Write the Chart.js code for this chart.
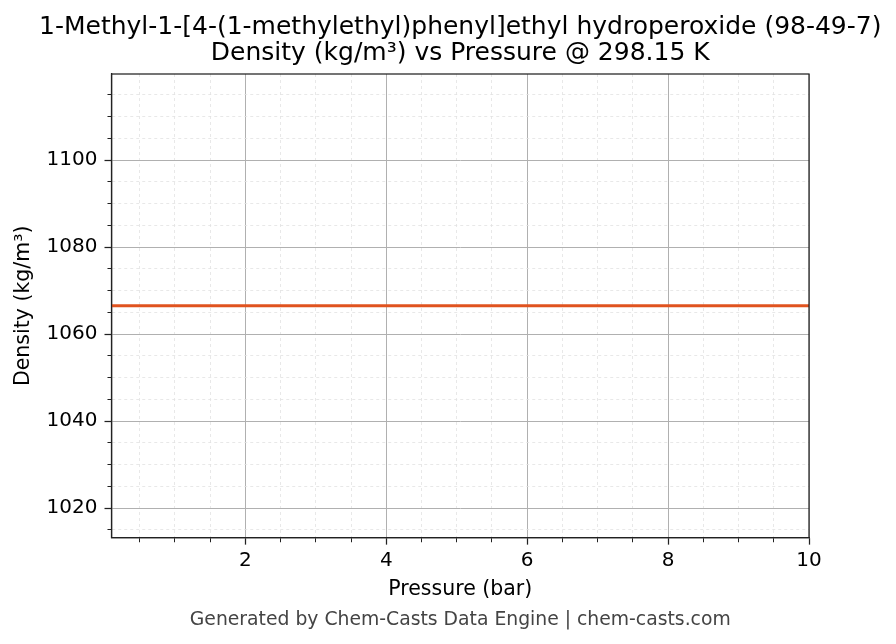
<!DOCTYPE html>
<html>
<head>
<meta charset="utf-8">
<style>
* {
  margin: 0;
  padding: 0;
}
body {
  background: #ffffff;
}
.chartBox {
  width: 896px;
  height: 644px;
}
</style>
</head>
<body>
<div class="chartBox">
  <canvas id="myChart" width="896" height="644"></canvas>
</div>
<script src="https://cdn.jsdelivr.net/npm/chart.js"></script>
<script>
// data
const pressures = [0.1, 1, 2, 3, 4, 5, 6, 7, 8, 9, 10];
const densities = [1066.5, 1066.5, 1066.5, 1066.5, 1066.5, 1066.5, 1066.5, 1066.5, 1066.5, 1066.5, 1066.5];
const xTickLabels = [2, 4, 6, 8, 10];
const yTickLabels = [1020, 1040, 1060, 1080, 1100];

const FONT = "'DejaVu Sans', sans-serif";
const MAJOR_GRID = '#b0b0b0';
const MINOR_GRID = '#e2e2e2';

// minor ticks are drawn shorter by dashing the tick mark
const isMajor = (labels, v) => labels.some(l => Math.abs(l - v) < 1e-6);

// axes box on all four sides
const frame = {
  id: 'frame',
  afterDraw(chart) {
    const {ctx, chartArea: a} = chart;
    ctx.save();
    ctx.strokeStyle = '#222222';
    ctx.lineWidth = 1.25;
    ctx.strokeRect(a.left, a.top, a.right - a.left, a.bottom - a.top);
    ctx.restore();
  }
};

// title + footer are centred over the plot area, and may run wider than it
const centreText = {
  id: 'centreText',
  afterLayout(chart) {
    const a = chart.chartArea;
    const mid = (a.left + a.right) / 2;
    const half = Math.min(mid, chart.width - mid);
    chart.boxes.forEach(b => {
      if (b.options && b.options.text !== undefined) {
        b.left = mid - half;
        b.right = mid + half;
      }
    });
  }
};

const data = {
  datasets: [{
    label: 'Density',
    data: pressures.map((p, i) => ({x: p, y: densities[i]})),
    borderColor: '#e0531f',
    backgroundColor: '#e0531f',
    borderWidth: 3,
    pointRadius: 0,
    tension: 0
  }]
};

const config = {
  type: 'line',
  data,
  options: {
    responsive: false,
    animation: false,
    layout: {
      padding: {left: 11, right: 87, top: 0, bottom: 6}
    },
    plugins: {
      legend: {display: false},
      tooltip: {enabled: false},
      title: {
        display: true,
        text: ['1-Methyl-1-[4-(1-methylethyl)phenyl]ethyl hydroperoxide (98-49-7)', 'Density (kg/m\u00b3) vs Pressure @ 298.15 K'],
        color: '#000000',
        font: {family: FONT, size: 25, weight: 'normal', lineHeight: 1.04},
        padding: {top: 14, bottom: 8}
      },
      subtitle: {
        display: true,
        position: 'bottom',
        text: 'Generated by Chem-Casts Data Engine | chem-casts.com',
        color: '#444444',
        font: {family: FONT, size: 18.8, weight: 'normal'},
        padding: {top: 2.5, bottom: 6.7}
      }
    },
    scales: {
      x: {
        type: 'linear',
        min: 0.1,
        max: 10,
        title: {
          display: true,
          text: 'Pressure (bar)',
          color: '#000000',
          font: {family: FONT, size: 20.5},
          padding: {top: 1, bottom: 4}
        },
        ticks: {
          stepSize: 0.5,
          includeBounds: false,
          autoSkip: false,
          maxRotation: 0,
          color: '#000000',
          font: {family: FONT, size: 20},
          padding: 4,
          callback: (v) => isMajor(xTickLabels, v) ? String(v) : ''
        },
        grid: {
          color: (c) => isMajor(xTickLabels, c.tick.value) ? MAJOR_GRID : MINOR_GRID,
          lineWidth: (c) => isMajor(xTickLabels, c.tick.value) ? 1 : 0.8,
          tickColor: '#222222',
          tickLength: 7,
          tickWidth: (c) => isMajor(xTickLabels, c.tick.value) ? 1.25 : 1,
          tickBorderDash: (c) => isMajor(xTickLabels, c.tick.value) ? [] : [4, 20]
        },
        border: {
          color: '#222222',
          width: 1.25,
          dash: (c) => (c.tick && !isMajor(xTickLabels, c.tick.value)) ? [3, 3] : []
        }
      },
      y: {
        type: 'linear',
        min: 1013.2,
        max: 1119.8,
        title: {
          display: true,
          text: 'Density (kg/m\u00b3)',
          color: '#000000',
          font: {family: FONT, size: 20.5},
          padding: {top: 0, bottom: 4}
        },
        ticks: {
          stepSize: 5,
          includeBounds: false,
          autoSkip: false,
          color: '#000000',
          font: {family: FONT, size: 20},
          padding: 7,
          callback: (v) => isMajor(yTickLabels, v) ? String(v) : ''
        },
        grid: {
          color: (c) => isMajor(yTickLabels, c.tick.value) ? MAJOR_GRID : MINOR_GRID,
          lineWidth: (c) => isMajor(yTickLabels, c.tick.value) ? 1 : 0.8,
          tickColor: '#222222',
          tickLength: 7,
          tickWidth: (c) => isMajor(yTickLabels, c.tick.value) ? 1.25 : 1,
          tickBorderDash: (c) => isMajor(yTickLabels, c.tick.value) ? [] : [4, 3],
          tickBorderDashOffset: (c) => isMajor(yTickLabels, c.tick.value) ? 0 : 4
        },
        border: {
          color: '#222222',
          width: 1.25,
          dash: (c) => (c.tick && !isMajor(yTickLabels, c.tick.value)) ? [3, 3] : []
        }
      }
    }
  },
  plugins: [frame, centreText]
};

const myChart = new Chart(document.getElementById('myChart'), config);
</script>
</body>
</html>
